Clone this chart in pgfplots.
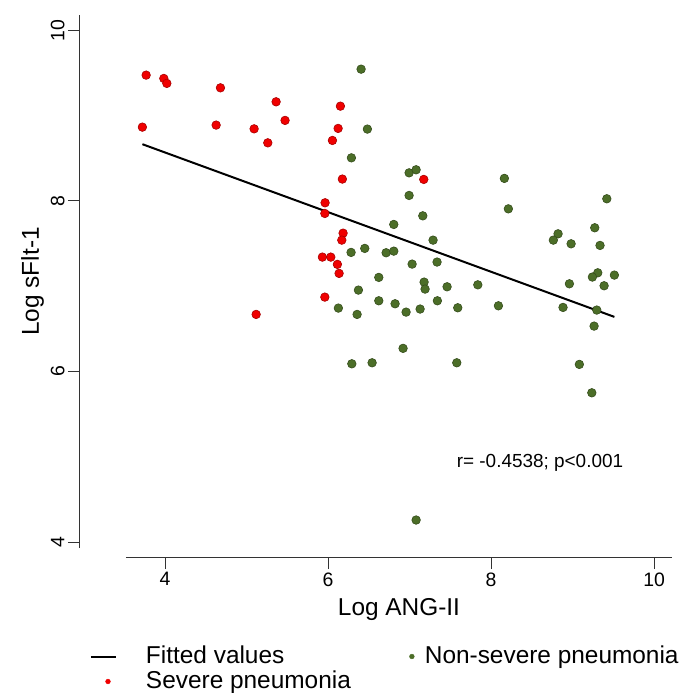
\documentclass[border=0pt]{standalone}
\usepackage{fontspec}
\setmainfont{Liberation Sans}
\usepackage{pgfplots}
\pgfplotsset{compat=1.18}
\usetikzlibrary{calc}
\definecolor{sred}{RGB}{240,0,0}
\definecolor{sgreen}{RGB}{76,110,40}

\pgfplotsset{
  legline/.style={legend image code/.code={\path[draw=none] (0bp,0bp) -- (55bp,0bp); \draw[##1] (0bp,0bp) -- (25bp,0bp);}},
  legdotA/.style={legend image code/.code={\path[draw=none] (0bp,0bp) -- (74bp,0bp); \draw[##1] plot coordinates {(61bp,0bp)};}},
  legdotB/.style={legend image code/.code={\path[draw=none] (0bp,0bp) -- (55bp,0bp); \draw[##1] plot coordinates {(17bp,0bp)};}},
}

\pgfplotstableread{
x y
3.767 9.475
3.984 9.436
4.021 9.378
4.679 9.326
5.362 9.162
5.472 8.944
3.721 8.865
4.626 8.889
5.092 8.845
5.260 8.681
6.151 9.111
6.123 8.850
6.053 8.709
6.175 8.256
7.174 8.252
5.963 7.978
5.960 7.853
6.184 7.622
6.168 7.540
5.930 7.341
6.033 7.341
6.114 7.256
6.135 7.150
5.960 6.872
5.117 6.669
}\severe

\pgfplotstableread{
x y
6.405 9.545
6.482 8.842
6.286 8.505
6.994 8.329
7.080 8.365
6.994 8.064
8.163 8.264
8.212 7.907
9.420 8.025
7.162 7.825
6.806 7.724
7.288 7.540
9.272 7.685
8.822 7.614
8.764 7.540
8.982 7.497
9.337 7.478
6.282 7.396
6.450 7.443
6.712 7.392
6.806 7.411
7.031 7.259
7.337 7.283
6.622 7.103
7.178 7.048
7.190 6.966
7.460 6.993
6.372 6.954
6.126 6.743
6.622 6.829
6.822 6.794
7.341 6.829
6.356 6.669
6.957 6.696
7.129 6.732
7.591 6.747
7.837 7.016
8.090 6.770
8.883 6.751
9.297 6.720
9.309 7.157
9.243 7.107
9.513 7.130
8.961 7.028
9.387 7.005
9.264 6.532
6.920 6.271
6.291 6.090
6.540 6.102
7.579 6.102
9.083 6.083
9.236 5.750
7.080 4.258
}\nonsevere

\begin{document}
\begin{tikzpicture}
\begin{axis}[name=ax, scale only axis, width=546bp, height=533bp,
  xmin=3.52, xmax=10.22, ymin=3.93, ymax=10.18,
  axis lines=left, axis line style={-, line width=1bp, black!80},
  axis x line shift=9bp, axis y line shift=46bp,
  xtick={4,6,8,10}, ytick={4,6,8,10},
  tick align=outside, major tick length=12bp,
  tick style={line width=1bp, black!80},
  /pgf/number format/assume math mode=true,
  ticklabel style={font=\fontsize{19.5}{20}\selectfont},
  yticklabel style={rotate=90, anchor=south},
  xlabel={Log ANG-II}, ylabel={Log sFlt-1},
  label style={font=\fontsize{24.5}{26}\selectfont},
  xlabel style={at={(axis description cs:0.5,0)}, anchor=center, yshift=-61.6bp},
  ylabel style={at={(axis description cs:0,0.5)}, anchor=center, yshift=93.4bp},
  clip=false,
  legend columns=2, legend cell align=left,
  legend style={draw=none, fill=none, inner sep=0pt, outer sep=0pt,
    at={(axis description cs:0,0)}, anchor=north west, xshift=-36bp, yshift=-96.5bp,
    font=\fontsize{24.5}{26}\selectfont,
    nodes={inner sep=0pt, text height=18.5bp, text depth=5.5bp},
    row sep=1bp, column sep=0pt},
]
\addlegendimage{black, line width=2bp, legline}
\addlegendimage{only marks, mark=*, mark size=2.4bp, color=sgreen, legdotA}
\addlegendimage{only marks, mark=*, mark size=2.4bp, color=sred, legdotB}

\addplot[forget plot, only marks, mark=*, mark size=4.3bp, mark options={fill=sgreen, draw=sgreen!70!black, line width=0.6bp}] table[x=x,y=y] {\nonsevere};
\addplot[forget plot, only marks, mark=*, mark size=4.3bp, mark options={fill=sred, draw=sred!70!black, line width=0.6bp}] table[x=x,y=y] {\severe};
\addplot[forget plot, black, line width=2bp] coordinates {(3.721,8.665) (9.513,6.640)};

\node[font=\fontsize{19}{20}\selectfont] at (axis cs:8.6,4.93) {r= -0.4538; p<0.001};

\legend{Fitted values, Non-severe pneumonia, Severe pneumonia}
\end{axis}
\pgfresetboundingbox
\path ($(ax.south west)+(-126bp,-145bp)$) rectangle ($(ax.north east)+(17bp,15bp)$);
\end{tikzpicture}
\end{document}
